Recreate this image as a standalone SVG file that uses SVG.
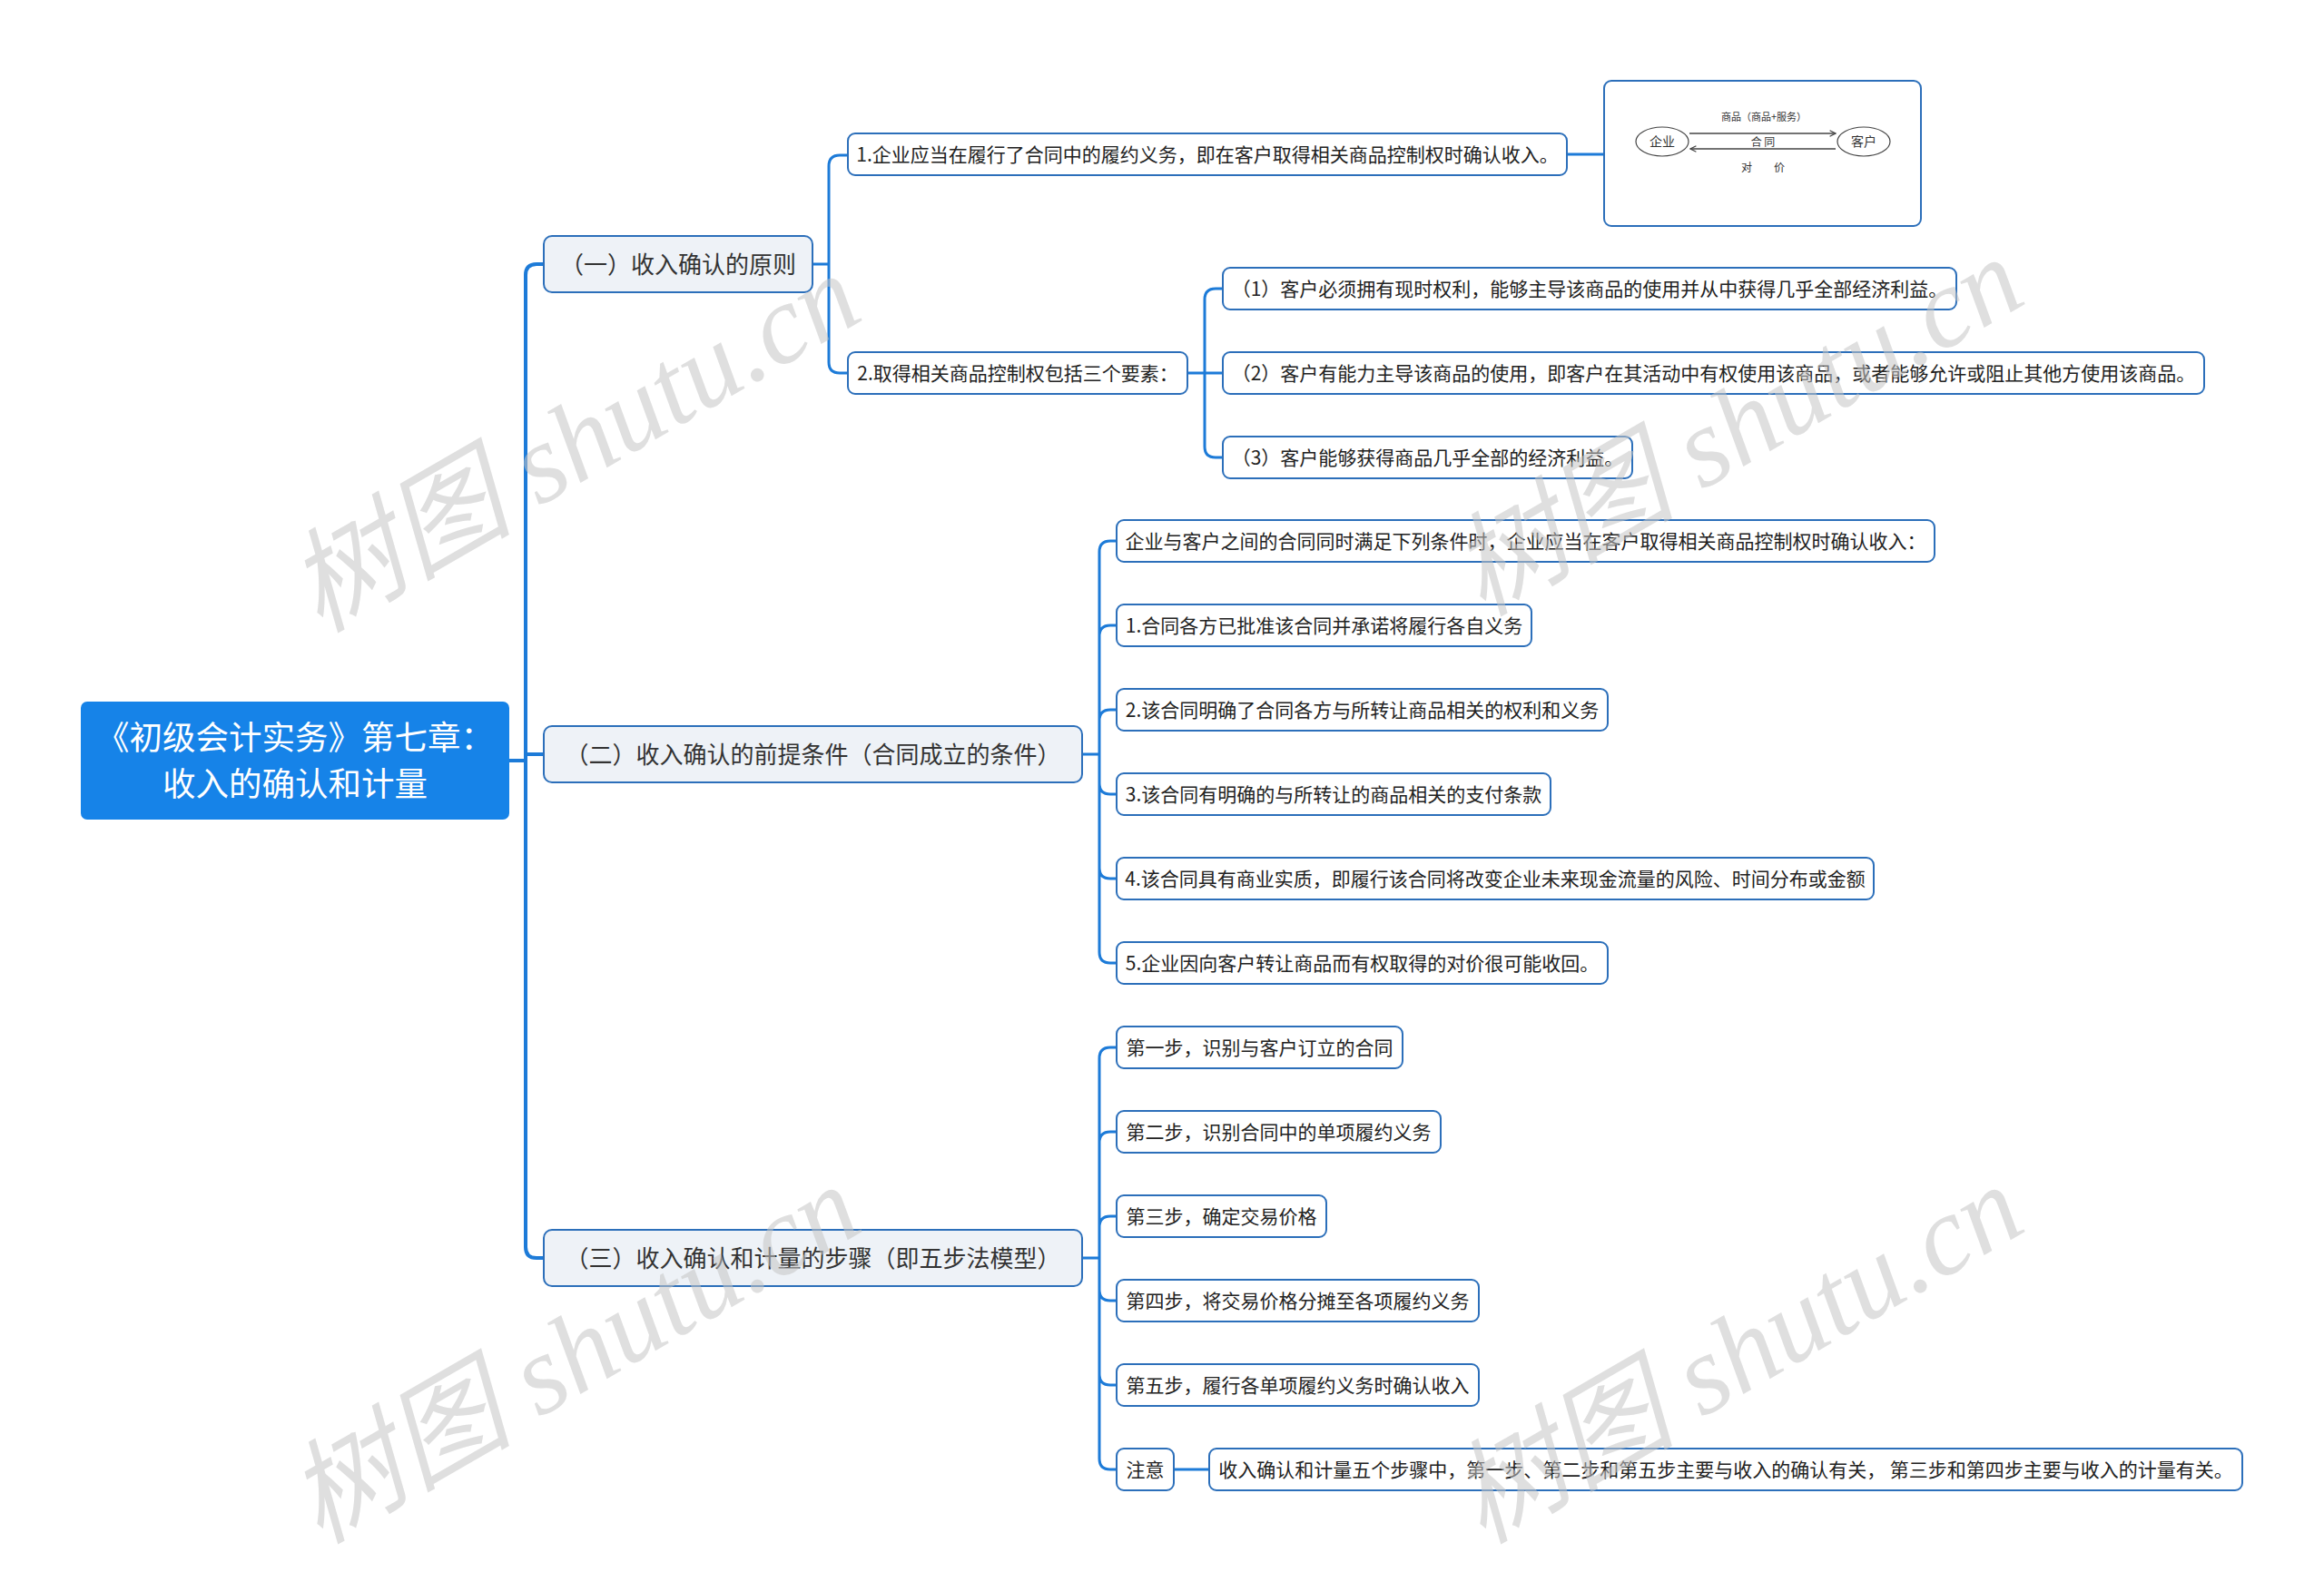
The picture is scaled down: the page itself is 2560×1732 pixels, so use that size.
<svg xmlns="http://www.w3.org/2000/svg" width="2560" height="1732" viewBox="0 0 2560 1732">
<defs>
<style>
.bg{fill:#ffffff}
.root rect{fill:#1683e8;stroke:#1683e8;stroke-width:2}
.root text{fill:#ffffff;font-family:"Noto Sans CJK SC","Microsoft YaHei",sans-serif;font-size:36.5px;text-anchor:middle}
.l1 rect{fill:#eef2f7;stroke:#2c6fba;stroke-width:2}
.l1 text{fill:#333333;font-family:"Noto Sans CJK SC",sans-serif;font-size:26px;text-anchor:middle}
.leaf rect{fill:#ffffff;stroke:#2c6fba;stroke-width:2}
.leaf text{fill:#222222;font-family:"Noto Sans CJK SC",sans-serif;font-size:21px;text-anchor:middle}
.trunk{fill:none;stroke:#1d7bd8;stroke-width:4;stroke-linecap:round}
.br{fill:none;stroke:#1d7bd8;stroke-width:3;stroke-linecap:round}
.pic text{fill:#333333;font-family:"Noto Sans CJK SC",sans-serif;text-anchor:middle}
.pic ellipse{fill:#ffffff;stroke:#444444;stroke-width:1.2}
.pic line{stroke:#444444;stroke-width:1.5}
.wm{fill:#c4c4c4;fill-opacity:0.55;font-family:"Liberation Serif","Noto Sans CJK SC",serif;font-style:italic;font-size:124px}
</style>
<marker id="arr" viewBox="0 0 10 10" refX="9" refY="5" markerWidth="8" markerHeight="8" orient="auto" markerUnits="userSpaceOnUse">
<path d="M1 1 L9 5 L1 9" fill="none" stroke="#444444" stroke-width="1.5"/>
</marker>
</defs>
<rect class="bg" x="0" y="0" width="2560" height="1732"/>

<g id="connectors">
<path class="trunk" d="M560 838 H579 M599 291 H591 Q579 291 579 303 V1374 Q579 1386 591 1386 H599 M579 831 H599"/>
<path class="br" d="M895 291 H913 M934 171 H925 Q913 171 913 183 V399 Q913 411 925 411 H934"/>
<path class="br" d="M1726 170 H1767"/>
<path class="br" d="M1308 411 H1347 M1347 318 H1339 Q1327 318 1327 330 V492 Q1327 504 1339 504 H1347"/>
<path class="br" d="M1192 831 H1211 M1230 596 H1223 Q1211 596 1211 608 V1049 Q1211 1061 1223 1061 H1230 M1211 701 Q1211 689 1223 689 H1230 M1211 794 Q1211 782 1223 782 H1230 M1211 863 Q1211 875 1223 875 H1230 M1211 956 Q1211 968 1223 968 H1230"/>
<path class="br" d="M1192 1386 H1211 M1230 1154 H1223 Q1211 1154 1211 1166 V1607 Q1211 1619 1223 1619 H1230 M1211 1259 Q1211 1247 1223 1247 H1230 M1211 1352 Q1211 1340 1223 1340 H1230 M1211 1421 Q1211 1433 1223 1433 H1230 M1211 1514 Q1211 1526 1223 1526 H1230"/>
<path class="br" d="M1293 1619 H1332"/>
</g>

<g id="root" class="root">
<rect x="90" y="774" width="470" height="128" rx="6"/>
<text x="325" y="826">《初级会计实务》第七章：</text>
<text x="325" y="877">收入的确认和计量</text>
</g>

<g id="n1" class="l1"><rect x="599" y="260" width="296" height="62" rx="9"/><text x="747" y="300.5">（一）收入确认的原则</text></g>
<g id="n2" class="l1"><rect x="599" y="800" width="593" height="62" rx="9"/><text x="895.5" y="840.5">（二）收入确认的前提条件（合同成立的条件）</text></g>
<g id="n3" class="l1"><rect x="599" y="1355" width="593" height="62" rx="9"/><text x="895.5" y="1395.5">（三）收入确认和计量的步骤（即五步法模型）</text></g>

<g id="n1_1" class="leaf"><rect x="934" y="147" width="792" height="46" rx="8"/><text x="1330" y="177.5">1.企业应当在履行了合同中的履约义务，即在客户取得相关商品控制权时确认收入。</text></g>
<g id="n1_1_img" class="pic">
<rect x="1767" y="89" width="349" height="160" rx="8" fill="#ffffff" stroke="#2c6fba" stroke-width="2"/>
<text x="1943" y="133" font-size="11">商品（商品+服务）</text>
<ellipse cx="1831" cy="156" rx="29" ry="16"/>
<ellipse cx="2053" cy="156" rx="29" ry="16"/>
<text x="1831" y="161" font-size="14">企业</text>
<text x="2053" y="161" font-size="14">客户</text>
<line x1="1861" y1="147" x2="2022" y2="147" marker-end="url(#arr)"/>
<line x1="2022" y1="164" x2="1862" y2="164" marker-end="url(#arr)"/>
<text x="1942" y="161" font-size="12">合 同</text>
<text x="1942" y="189" font-size="12">对　　价</text>
</g>
<g id="n1_2" class="leaf"><rect x="934" y="388" width="374" height="46" rx="8"/><text x="1121" y="418.5">2.取得相关商品控制权包括三个要素：</text></g>
<g id="n1_2_1" class="leaf"><rect x="1347" y="295" width="808" height="46" rx="8"/><text x="1751" y="325.5">（1）客户必须拥有现时权利，能够主导该商品的使用并从中获得几乎全部经济利益。</text></g>
<g id="n1_2_2" class="leaf"><rect x="1347" y="388" width="1081" height="46" rx="8"/><text x="1887.5" y="418.5">（2）客户有能力主导该商品的使用，即客户在其活动中有权使用该商品，或者能够允许或阻止其他方使用该商品。</text></g>
<g id="n1_2_3" class="leaf"><rect x="1347" y="481" width="451" height="46" rx="8"/><text x="1572.5" y="511.5">（3）客户能够获得商品几乎全部的经济利益。</text></g>

<g id="n2_0" class="leaf"><rect x="1230" y="573" width="901" height="46" rx="8"/><text x="1680.5" y="603.5">企业与客户之间的合同同时满足下列条件时，企业应当在客户取得相关商品控制权时确认收入：</text></g>
<g id="n2_1" class="leaf"><rect x="1230" y="666" width="457" height="46" rx="8"/><text x="1458.5" y="696.5">1.合同各方已批准该合同并承诺将履行各自义务</text></g>
<g id="n2_2" class="leaf"><rect x="1230" y="759" width="541" height="46" rx="8"/><text x="1500.5" y="789.5">2.该合同明确了合同各方与所转让商品相关的权利和义务</text></g>
<g id="n2_3" class="leaf"><rect x="1230" y="852" width="478" height="46" rx="8"/><text x="1469" y="882.5">3.该合同有明确的与所转让的商品相关的支付条款</text></g>
<g id="n2_4" class="leaf"><rect x="1230" y="945" width="834" height="46" rx="8"/><text x="1647" y="975.5">4.该合同具有商业实质，即履行该合同将改变企业未来现金流量的风险、时间分布或金额</text></g>
<g id="n2_5" class="leaf"><rect x="1230" y="1038" width="541" height="46" rx="8"/><text x="1500.5" y="1068.5">5.企业因向客户转让商品而有权取得的对价很可能收回。</text></g>

<g id="n3_1" class="leaf"><rect x="1230" y="1131" width="315" height="46" rx="8"/><text x="1387.5" y="1161.5">第一步，识别与客户订立的合同</text></g>
<g id="n3_2" class="leaf"><rect x="1230" y="1224" width="357" height="46" rx="8"/><text x="1408.5" y="1254.5">第二步，识别合同中的单项履约义务</text></g>
<g id="n3_3" class="leaf"><rect x="1230" y="1317" width="231" height="46" rx="8"/><text x="1345.5" y="1347.5">第三步，确定交易价格</text></g>
<g id="n3_4" class="leaf"><rect x="1230" y="1410" width="399" height="46" rx="8"/><text x="1429.5" y="1440.5">第四步，将交易价格分摊至各项履约义务</text></g>
<g id="n3_5" class="leaf"><rect x="1230" y="1503" width="399" height="46" rx="8"/><text x="1429.5" y="1533.5">第五步，履行各单项履约义务时确认收入</text></g>
<g id="n3_6" class="leaf"><rect x="1230" y="1596" width="63" height="46" rx="8"/><text x="1261.5" y="1626.5">注意</text></g>
<g id="n3_6_1" class="leaf"><rect x="1332" y="1596" width="1138" height="46" rx="8"/><text x="1901" y="1626.5">收入确认和计量五个步骤中，第一步、第二步和第五步主要与收入的确认有关， 第三步和第四步主要与收入的计量有关。</text></g>

<g id="watermarks">
<text class="wm" transform="translate(352 698) rotate(-30)">树图 shutu.cn</text>
<text class="wm" transform="translate(1633 680) rotate(-30)">树图 shutu.cn</text>
<text class="wm" transform="translate(352 1702) rotate(-30)">树图 shutu.cn</text>
<text class="wm" transform="translate(1633 1702) rotate(-30)">树图 shutu.cn</text>
</g>
</svg>
